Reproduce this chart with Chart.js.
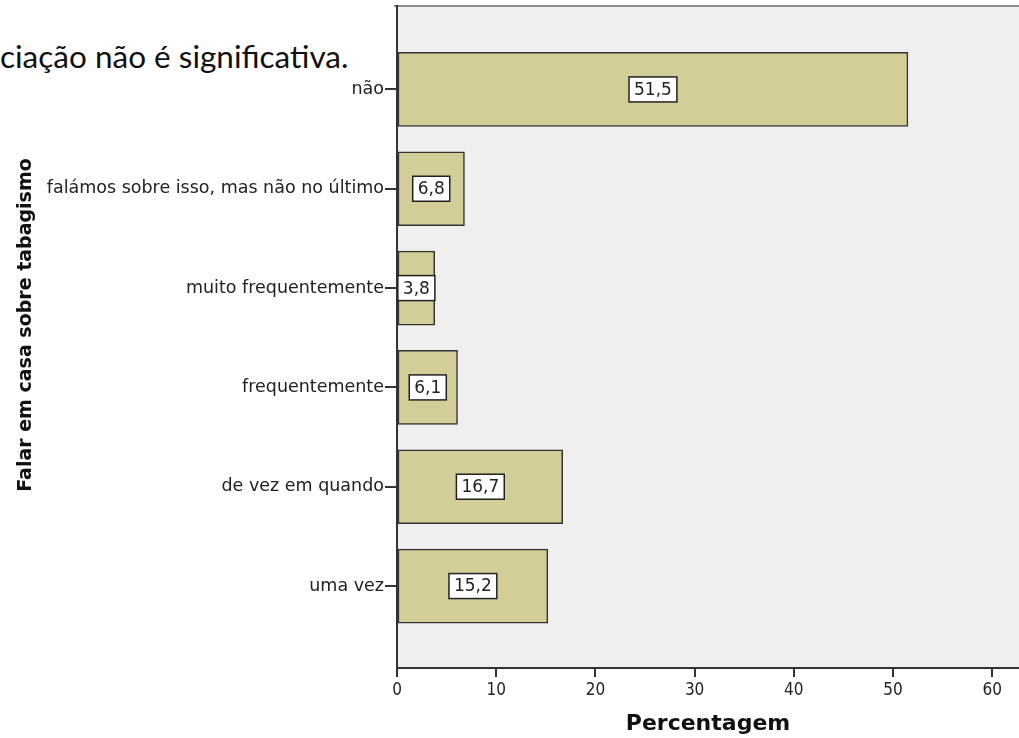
<!DOCTYPE html>
<html lang="pt">
<head>
<meta charset="UTF-8" />
<title>Falar em casa sobre tabagismo</title>
<script src="https://cdn.jsdelivr.net/npm/chart.js"></script>
<style>
  body { margin: 0; background: #fff; }
  .wrap { position: relative; width: 1019px; height: 738px; overflow: hidden; }
  .note { position: absolute; left: 0; top: 37px; font: 31.5px Lato, sans-serif; color: #111; white-space: nowrap; }
  canvas { position: absolute; left: 0; top: 0; }
</style>
</head>
<body>
<div class="wrap">
  <div class="note">ciação não é significativa.</div>
  <canvas id="chart" width="1019" height="738"></canvas>
</div>
<script>
  // data
  const categories = ['não', 'falámos sobre isso, mas não no último', 'muito frequentemente', 'frequentemente', 'de vez em quando', 'uma vez'];
  const percentages = [51.5, 6.8, 3.8, 6.1, 16.7, 15.2];
  const xTicks = [0, 10, 20, 30, 40, 50, 60];
  const yTitle = 'Falar em casa sobre tabagismo';

  // grey plot area + thin top border, y title drawn by hand so it sits where SPSS put it
  const plotBg = {
    id: 'plotBg',
    beforeDraw(chart) {
      const { ctx, chartArea: a } = chart;
      ctx.save();
      ctx.fillStyle = '#efefef';
      ctx.fillRect(a.left, a.top, a.right - a.left, a.bottom - a.top);
      ctx.strokeStyle = '#8c8c8c';
      ctx.lineWidth = 2;
      ctx.beginPath();
      ctx.moveTo(a.left - 3, a.top);
      ctx.lineTo(a.right, a.top);
      ctx.stroke();
      ctx.restore();
    },
    afterDraw(chart) {
      const ctx = chart.ctx;
      ctx.save();
      ctx.translate(26, 325);
      ctx.rotate(-Math.PI / 2);
      ctx.font = 'bold 19px "DejaVu Sans"';
      ctx.fillStyle = '#111';
      ctx.textAlign = 'center';
      ctx.textBaseline = 'middle';
      ctx.fillText(yTitle, 0, 0);
      ctx.restore();
    }
  };

  // boxed value labels in the middle of each bar
  const valueBoxes = {
    id: 'valueBoxes',
    afterDatasetsDraw(chart) {
      const ctx = chart.ctx;
      const meta = chart.getDatasetMeta(0);
      ctx.save();
      ctx.font = '17px "DejaVu Sans"';
      ctx.textAlign = 'center';
      ctx.textBaseline = 'middle';
      meta.data.forEach((bar, i) => {
        const text = percentages[i].toFixed(1).replace('.', ',');
        const cx = (bar.x + bar.base) / 2;
        const cy = bar.y;
        const w = ctx.measureText(text).width + 10;
        const h = 25;
        ctx.fillStyle = '#fff';
        ctx.fillRect(cx - w / 2, cy - h / 2, w, h);
        ctx.strokeStyle = '#222';
        ctx.lineWidth = 1.5;
        ctx.strokeRect(cx - w / 2, cy - h / 2, w, h);
        ctx.fillStyle = '#222';
        ctx.fillText(text, cx, cy + 1);
      });
      ctx.restore();
    }
  };

  new Chart(document.getElementById('chart'), {
    type: 'bar',
    data: {
      datasets: [{
        data: percentages.map((v, i) => ({ x: v, y: i })),
        backgroundColor: '#d3ce98',
        borderColor: '#333',
        borderWidth: 1.5,
        borderSkipped: false,
        barThickness: 74
      }]
    },
    options: {
      indexAxis: 'y',
      responsive: false,
      animation: false,
      layout: { padding: { top: 6, right: 0, left: 0, bottom: 0 } },
      plugins: {
        legend: { display: false },
        tooltip: { enabled: false }
      },
      scales: {
        x: {
          type: 'linear',
          min: 0,
          max: 62.7,
          afterBuildTicks: s => { s.ticks = xTicks.map(v => ({ value: v })); },
          afterFit: s => { s.height = 70; },
          grid: { drawOnChartArea: false, drawTicks: true, tickLength: 9, color: '#333', lineWidth: 2 },
          border: { display: true, color: '#333', width: 2 },
          ticks: { padding: 3, color: '#222', maxRotation: 0, font: { family: '"DejaVu Sans Condensed", "DejaVu Sans"', size: 17 } },
          title: {
            display: true,
            text: 'Percentagem',
            color: '#111',
            font: { family: '"DejaVu Sans"', weight: 'bold', size: 22 },
            padding: { top: 0, bottom: 1 }
          }
        },
        y: {
          type: 'linear',
          reverse: true,
          offset: false,
          min: -0.84,
          max: 5.825,
          afterBuildTicks: s => { s.ticks = categories.map((c, i) => ({ value: i })); },
          afterFit: s => { s.width = 397; s.paddingTop = 0; s.paddingBottom = 0; },
          grid: { offset: false, drawOnChartArea: false, drawTicks: true, tickLength: 12, color: '#333', lineWidth: 2 },
          border: { display: true, color: '#333', width: 2 },
          ticks: { padding: 1, color: '#222', font: { family: '"DejaVu Sans"', size: 17.5 }, callback: v => categories[v] }
        }
      }
    },
    plugins: [plotBg, valueBoxes]
  });
</script>
</body>
</html>
